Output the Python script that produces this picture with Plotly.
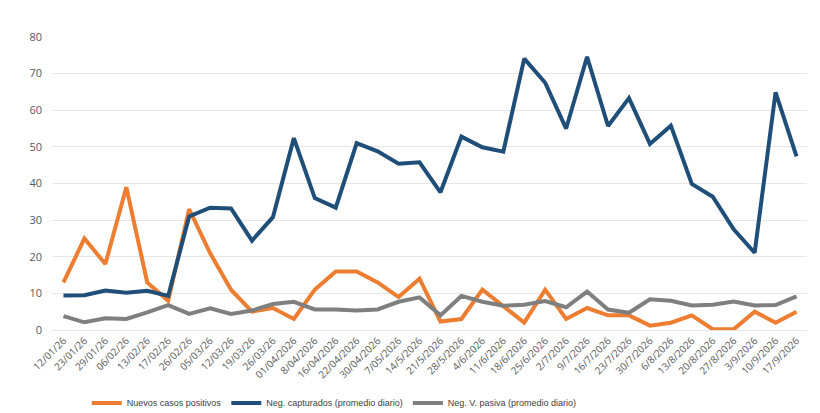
import plotly.graph_objects as go

fechas = ["12/01/26", "23/01/26", "29/01/26", "06/02/26", "13/02/26", "17/02/26",
          "26/02/26", "05/03/26", "12/03/26", "19/03/26", "26/03/26", "01/04/2026",
          "8/04/2026", "16/04/2026", "22/04/2026", "30/04/2026", "7/05/2026", "14/5/2026",
          "21/5/2026", "28/5/2026", "4/6/2026", "11/6/2026", "18/6/2026", "25/6/2026",
          "2/7/2026", "9/7/2026", "16/7/2026", "23/7/2026", "30/7/2026", "6/8/2026",
          "13/8/2026", "20/8/2026", "27/8/2026", "3/9/2026", "10/9/2026", "17/9/2026"]

nuevos_positivos = [13, 25, 18, 39, 13, 8, 33, 21, 11, 5, 6, 3,
                    11, 16, 16, 13, 9, 14, 2.3, 3, 11, 6.6, 2, 11,
                    3, 6, 4, 4, 1.2, 2, 4, 0.2, 0.2, 5, 2, 5]

neg_capturados = [9.4, 9.5, 10.8, 10.2, 10.7, 9.3, 31, 33.4, 33.2, 24.4, 30.8, 52.4,
                  36, 33.4, 51, 48.8, 45.4, 45.8, 37.6, 52.8, 49.9, 48.7, 74.1, 67.5,
                  55, 74.6, 55.7, 63.3, 50.8, 55.8, 39.9, 36.4, 27.5, 21.1, 64.9, 47.4]

neg_v_pasiva = [3.8, 2.1, 3.2, 3, 4.8, 6.8, 4.4, 5.9, 4.4, 5.3, 7.1, 7.7,
                5.6, 5.6, 5.3, 5.6, 7.7, 8.9, 4, 9.3, 7.7, 6.6, 6.9, 7.9,
                6.2, 10.5, 5.6, 4.7, 8.4, 8, 6.7, 6.9, 7.8, 6.7, 6.8, 9.2]

y_ticks = [0, 10, 20, 30, 40, 50, 60, 70, 80]

series = [
    ("Nuevos casos positivos", nuevos_positivos, "#ED7D31"),
    ("Neg. capturados (promedio diario)", neg_capturados, "#1F4E79"),
    ("Neg. V. pasiva (promedio diario)", neg_v_pasiva, "#7F7F7F"),
]

fig = go.Figure()
for name, vals, color in series:
    fig.add_trace(go.Scatter(x=fechas, y=vals, name=name, mode="lines",
                             line=dict(color=color, width=4)))

fig.update_layout(
    width=820, height=413,
    margin=dict(l=53, r=13, t=37, b=83, autoexpand=False),
    paper_bgcolor="white", plot_bgcolor="white",
    font=dict(family="Open Sans", color="#595959", size=11),
    showlegend=True,
    legend=dict(orientation="h", x=0.373, xanchor="center", y=-0.249, yanchor="middle",
                font=dict(family="Liberation Sans", size=9, color="#404040"),
                itemwidth=30, traceorder="normal"),
)
fig.update_xaxes(type="category", range=[-0.5, len(fechas) - 0.5], tickangle=-45,
                 tickfont=dict(size=10, color="#595959"), showgrid=False,
                 showline=True, linecolor="#E6E6E6", linewidth=1, ticks="",
                 automargin=False)
fig.update_yaxes(range=[0, 80], tickvals=y_ticks, showgrid=True, gridcolor="#E6E6E6",
                 gridwidth=1, zeroline=False, tickfont=dict(size=11, color="#595959"),
                 ticklabelstandoff=10, fixedrange=True, automargin=False)

fig.write_html("out.html")
